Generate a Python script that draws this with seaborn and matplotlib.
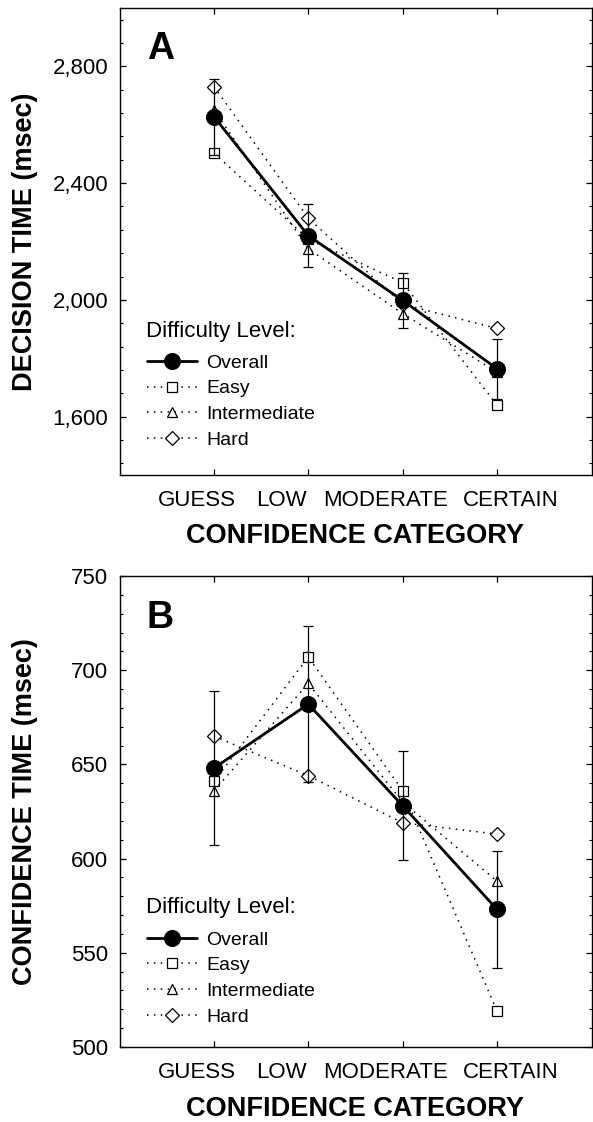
"""Decision and confidence time by confidence category (panels A and B)."""

import matplotlib

matplotlib.use("Agg")

import matplotlib.pyplot as plt
import matplotlib.transforms as mtransforms
import pandas as pd
import seaborn as sns
from matplotlib.ticker import MultipleLocator, StrMethodFormatter

categories = ["GUESS", "LOW", "MODERATE", "CERTAIN"]
series_names = ["Overall", "Easy", "Intermediate", "Hard"]

decision_overall = [2628, 2220, 1998, 1764]
decision_overall_err = [130, 108, 93, 103]
decision_easy = [2503, 2208, 2059, 1639]
decision_intermediate = [2652, 2175, 1953, 1752]
decision_hard = [2731, 2280, 1985, 1902]

confidence_overall = [648, 682, 628, 573]
confidence_overall_err = [41, 41.5, 29, 31]
confidence_easy = [641, 707, 636, 519]
confidence_intermediate = [636, 693, 630, 588]
confidence_hard = [665, 644, 619, 613]

sns.set_style("ticks")
plt.rcParams["font.family"] = ["Liberation Sans", "DejaVu Sans"]
plt.rcParams["text.color"] = "black"
plt.rcParams["axes.labelcolor"] = "black"
plt.rcParams["xtick.color"] = "black"
plt.rcParams["ytick.color"] = "black"

DOTS = (0, (1, 3.5))
STYLES = {
    "Overall": dict(linestyle="-", linewidth=2.0, marker="o", markersize=11.5,
                    markerfacecolor="black", markeredgecolor="black", zorder=5),
    "Easy": dict(linestyle=DOTS, linewidth=1.1, marker="s", markersize=6.8,
                 markerfacecolor="white", markeredgecolor="black",
                 markeredgewidth=0.9, zorder=2),
    "Intermediate": dict(linestyle=DOTS, linewidth=1.1, marker="^", markersize=7.5,
                         markerfacecolor="white", markeredgecolor="black",
                         markeredgewidth=0.9, zorder=2),
    "Hard": dict(linestyle=DOTS, linewidth=1.1, marker="D", markersize=7.0,
                 markerfacecolor="white", markeredgecolor="black",
                 markeredgewidth=0.9, zorder=2),
}
LABEL_SHIFT_PX = [-17, -27, -17, 14]


def make_frame(overall, easy, intermediate, hard):
    rows = []
    for name, values in zip(series_names, [overall, easy, intermediate, hard]):
        for pos, value in enumerate(values, start=1):
            rows.append({"series": name, "position": pos, "value": value})
    return pd.DataFrame(rows)


def draw_panel(fig, rect, frame, err, letter, ylabel, ylim, major, minor,
               title_y, legend_y):
    ax = fig.add_axes(rect)
    for name in series_names:
        sub = frame[frame["series"] == name]
        sns.lineplot(data=sub, x="position", y="value", ax=ax, color="black",
                     errorbar=None, label=name, **STYLES[name])
    overall = frame[frame["series"] == "Overall"]
    ax.errorbar(overall["position"], overall["value"], yerr=err, fmt="none",
                ecolor="black", elinewidth=0.9, capsize=3.6, capthick=0.9, zorder=4)

    ax.set_xlim(0, 5)
    ax.set_ylim(*ylim)
    ax.set_xticks(range(1, len(categories) + 1))
    ax.set_xticklabels(categories)
    ax.yaxis.set_major_locator(MultipleLocator(major))
    ax.yaxis.set_minor_locator(MultipleLocator(minor))
    ax.yaxis.set_major_formatter(StrMethodFormatter("{x:,.0f}"))
    ax.tick_params(axis="both", which="both", direction="in", top=True, right=True,
                   colors="black", labelcolor="black")
    ax.tick_params(axis="both", which="major", length=4.5, width=0.9, labelsize=16)
    ax.tick_params(axis="y", which="minor", length=2.2, width=0.8)
    ax.tick_params(axis="x", which="major", pad=11)
    ax.tick_params(axis="y", which="major", pad=8)
    for spine in ax.spines.values():
        spine.set_linewidth(1.0)
        spine.set_color("black")

    ax.set_xlabel("CONFIDENCE CATEGORY", fontsize=19.5, fontweight="bold",
                  color="black")
    ax.set_ylabel(ylabel, fontsize=19.5, fontweight="bold", color="black")
    ax.xaxis.set_label_coords(0.5, -0.103)
    ax.yaxis.set_label_coords(-0.172, 0.5)

    ax.text(0.058, 0.89, letter, transform=ax.transAxes, fontsize=27,
            fontweight="bold", ha="left", va="baseline", color="black")

    # legend title drawn separately to get the wider gap of the original
    ax.text(0.056, title_y, "Difficulty Level:", transform=ax.transAxes,
            fontsize=16, ha="left", va="baseline", color="black")
    legend = ax.legend(loc="upper left", bbox_to_anchor=(0.058, legend_y),
                       frameon=False, fontsize=14, handlelength=2.6,
                       handletextpad=0.45, labelspacing=0.42, borderaxespad=0,
                       borderpad=0, numpoints=1)
    for text in legend.get_texts():
        text.set_color("black")

    for label, shift in zip(ax.get_xticklabels(), LABEL_SHIFT_PX):
        label.set_transform(label.get_transform() + mtransforms.ScaledTranslation(
            shift / 100, 0, fig.dpi_scale_trans))
    return ax


fig = plt.figure(figsize=(5.93, 11.22), dpi=100)
W, H = 593, 1122

decision_frame = make_frame(decision_overall, decision_easy,
                            decision_intermediate, decision_hard)
confidence_frame = make_frame(confidence_overall, confidence_easy,
                              confidence_intermediate, confidence_hard)

draw_panel(fig, [119.5 / W, 1 - 475 / H, 472 / W, 467 / H], decision_frame,
           decision_overall_err, "A", "DECISION TIME (msec)", (1400, 3000),
           400, 80, 0.296, 0.259)
draw_panel(fig, [119.5 / W, 1 - 1047 / H, 472 / W, 471 / H], confidence_frame,
           confidence_overall_err, "B", "CONFIDENCE TIME (msec)", (500, 750),
           50, 10, 0.2845, 0.2465)

fig.savefig("out.png", dpi=100)
